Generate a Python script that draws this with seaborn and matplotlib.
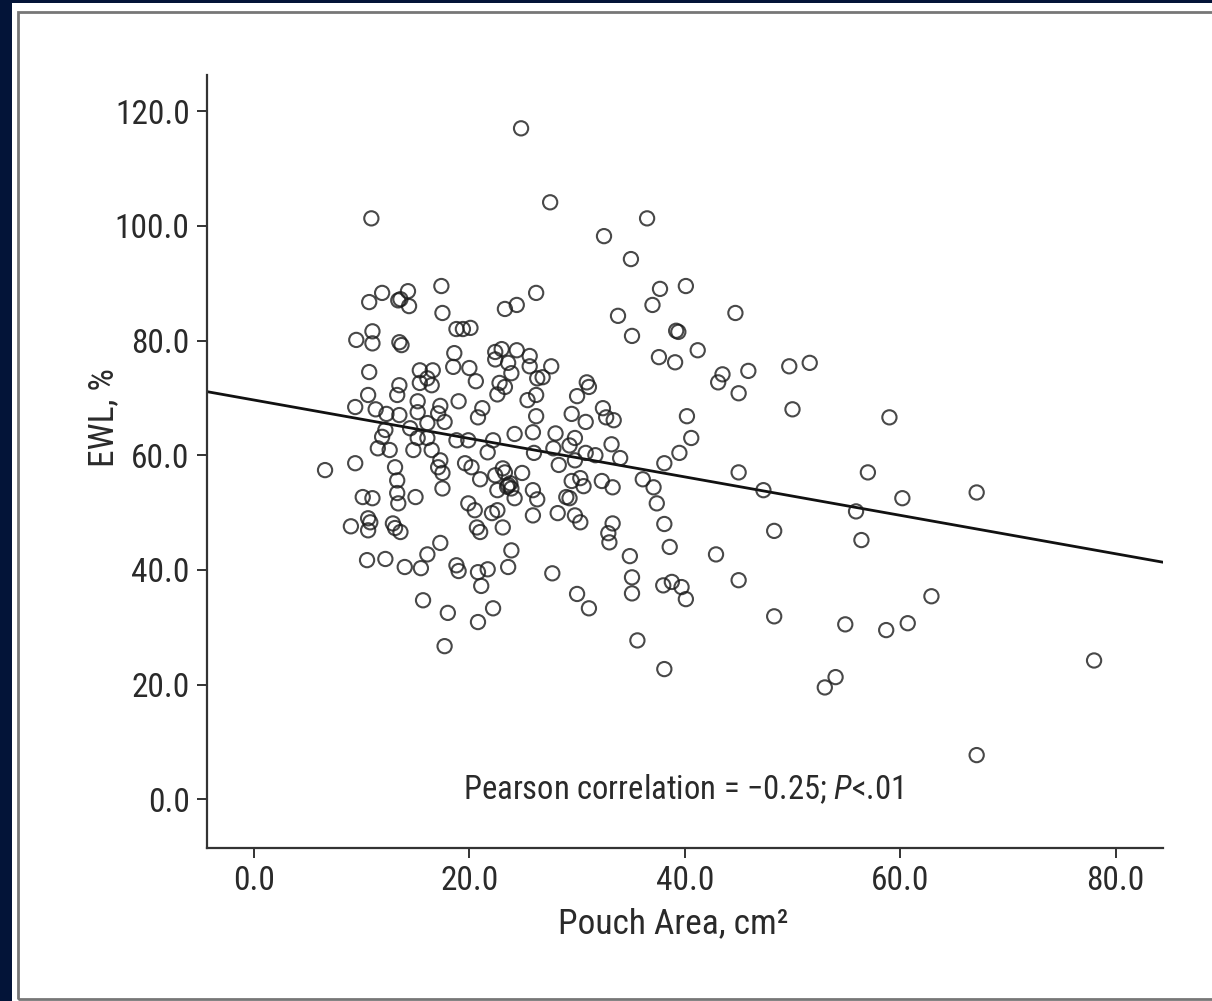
import matplotlib
matplotlib.use("Agg")
import matplotlib.pyplot as plt
from matplotlib import font_manager
from matplotlib.patches import Rectangle
import seaborn as sns
import pandas as pd

# ---------------- data ----------------
pouch_area = [
    24.8, 10.9, 27.5, 32.5, 36.5, 35.0,
    40.1, 44.7, 41.2, 43.5, 43.1, 45.9, 45.0, 49.7, 51.6, 50.0, 59.0, 40.2, 40.6, 45.0, 47.3, 57.0,
    60.2, 67.1, 55.9, 48.3, 56.4, 42.9, 45.0, 40.1, 48.3, 62.9, 54.9, 58.7, 60.7, 78.0, 54.0, 53.0, 67.1,
    23.3, 24.4, 26.2, 33.8, 35.1, 37.0, 37.7, 39.2, 39.4, 37.6, 39.1,
    22.4, 23.0, 24.4, 25.6, 25.6, 22.4, 23.6, 23.9, 27.6, 26.3, 26.8,
    22.8, 23.3, 22.6, 25.4, 26.2, 30.9, 31.1, 30.0, 26.2, 29.5,
    30.8, 32.4, 32.7, 33.4, 25.9, 28.0, 24.2, 22.2, 29.8, 29.3,
    33.2, 39.5, 38.1, 26.0, 27.8, 30.8, 31.7, 34.0, 28.3, 29.8, 23.1,
    22.4, 23.3, 24.9, 22.6, 23.6, 23.9, 23.8, 23.5, 24.2, 25.9, 26.3, 22.6, 25.9, 23.1, 22.1,
    29.5, 30.3, 30.6, 32.3, 33.3, 29.0, 29.3, 28.2, 29.8, 30.3, 33.3, 32.9, 33.0,
    36.1, 37.1, 37.4, 38.1, 38.6, 34.9, 35.1, 35.1, 38.0, 38.8, 39.7, 35.6,
    23.9, 23.6, 27.7, 30.0, 31.1, 22.2, 38.1,
    10.7, 11.9, 13.4, 13.6, 14.3, 14.4, 17.4, 17.5, 9.5, 11.0, 11.0, 13.5, 13.7, 18.8, 19.4, 20.1,
    10.7, 18.6, 18.5, 20.0, 20.6, 15.4, 16.6, 16.1, 15.4, 16.5, 13.5, 13.3, 10.6,
    9.4, 11.3, 12.3, 13.5, 15.2, 17.3, 17.1, 17.7, 19.0, 21.2, 20.8, 15.2, 16.1,
    12.2, 11.9, 14.5, 15.2, 16.1, 18.8, 19.9, 21.7, 11.5, 12.6, 14.8, 16.5, 17.3, 19.6, 9.4, 13.1, 6.6,
    13.3, 10.1, 11.0, 13.3, 13.4, 15.0, 9.0, 10.6, 10.6, 10.8, 12.9, 13.1, 13.6,
    10.5, 12.2, 14.0, 15.5, 16.1, 17.3, 18.8, 19.0, 20.8, 21.7, 21.1, 15.7, 18.0, 20.8, 17.7,
    17.1, 17.5, 17.5, 20.2, 21.0, 19.9, 20.5, 20.7, 21.0,
]
ewl = [
    117.0, 101.3, 104.1, 98.2, 101.3, 94.2,
    89.5, 84.8, 78.3, 74.1, 72.7, 74.7, 70.8, 75.5, 76.1, 68.0, 66.6, 66.8, 63.0, 57.0, 53.9, 57.0,
    52.5, 53.5, 50.2, 46.8, 45.2, 42.7, 38.2, 34.9, 31.9, 35.4, 30.5, 29.5, 30.7, 24.2, 21.3, 19.5, 7.7,
    85.5, 86.2, 88.3, 84.3, 80.8, 86.2, 89.0, 81.7, 81.5, 77.1, 76.2,
    78.0, 78.5, 78.3, 77.3, 75.5, 76.7, 76.1, 74.3, 75.5, 73.4, 73.6,
    72.6, 71.9, 70.6, 69.6, 70.5, 72.7, 71.9, 70.3, 66.8, 67.2,
    65.8, 68.2, 66.6, 66.1, 64.0, 63.8, 63.7, 62.6, 63.0, 61.7,
    61.9, 60.4, 58.6, 60.4, 61.2, 60.4, 60.0, 59.5, 58.3, 59.1, 57.7,
    56.5, 57.0, 56.9, 53.9, 54.8, 54.2, 55.1, 54.5, 52.5, 53.9, 52.3, 50.4, 49.5, 47.4, 49.9,
    55.5, 56.0, 54.6, 55.5, 54.4, 52.7, 52.5, 49.9, 49.5, 48.3, 48.1, 46.4, 44.8,
    55.8, 54.4, 51.6, 48.0, 44.0, 42.4, 38.7, 35.9, 37.3, 37.9, 37.0, 27.7,
    43.4, 40.5, 39.4, 35.8, 33.3, 33.3, 22.7,
    86.7, 88.3, 87.0, 87.2, 88.6, 86.0, 89.5, 84.8, 80.1, 81.6, 79.5, 79.7, 79.2, 82.0, 82.0, 82.2,
    74.5, 77.8, 75.4, 75.2, 72.9, 74.8, 74.8, 73.4, 72.6, 72.2, 72.2, 70.5, 70.5,
    68.4, 68.0, 67.2, 67.0, 69.4, 68.6, 67.3, 65.8, 69.4, 68.2, 66.6, 67.5, 65.6,
    64.4, 63.2, 64.7, 63.0, 63.0, 62.6, 62.6, 60.5, 61.2, 60.9, 60.9, 60.9, 59.1, 58.6, 58.6, 57.9, 57.4,
    55.6, 52.7, 52.5, 53.4, 51.6, 52.7, 47.6, 49.0, 46.9, 48.3, 48.1, 47.3, 46.6,
    41.7, 41.9, 40.5, 40.3, 42.7, 44.7, 40.8, 39.8, 39.6, 40.1, 37.2, 34.7, 32.5, 30.9, 26.7,
    57.9, 56.9, 54.2, 57.9, 55.8, 51.6, 50.4, 47.4, 46.6,
]
x_ticks = [0, 20, 40, 60, 80]
y_ticks = [0, 20, 40, 60, 80, 100, 120]
x_label = "Pouch Area, cm²"
y_label = "EWL, %"
note = "Pearson correlation = \u22120.25; $\\mathit{P}$<.01"

df = pd.DataFrame({"pouch_area": pouch_area, "ewl": ewl})

# ---------------- style ----------------
sns.set_theme(style="ticks")

# look for a condensed sans-serif (the original uses a narrow Helvetica)
entries = font_manager.fontManager.ttflist
names = {f.name for f in entries}
main_font = None
condensed = False
for cand in ["Liberation Sans Narrow", "Arial Narrow", "Nimbus Sans Narrow",
             "Roboto Condensed", "Open Sans Condensed", "Noto Sans Condensed",
             "DejaVu Sans Condensed"]:
    if cand in names:
        main_font = cand
        break
if main_font is None:
    for f in entries:
        if str(f.stretch) in ("condensed", "semi-condensed") and f.name in (
                "DejaVu Sans", "Noto Sans", "Roboto", "Open Sans", "Liberation Sans"):
            main_font = f.name
            condensed = True
            break
if main_font is None:
    main_font = "Liberation Sans"

plt.rcParams["font.family"] = [main_font, "DejaVu Sans"]
if condensed:
    plt.rcParams["font.stretch"] = "condensed"
plt.rcParams["mathtext.fontset"] = "custom"
plt.rcParams["mathtext.rm"] = main_font
plt.rcParams["mathtext.it"] = main_font + ":italic"

narrow = main_font != "Liberation Sans"
tick_fs = 24 if narrow else 22
label_fs = 25.5 if narrow else 22.5
note_fs = 23.5 if narrow else 20.5

W, H = 1212, 1001
fig = plt.figure(figsize=(W / 100, H / 100), dpi=100)
fig.patch.set_facecolor("#031438")
# white panel and its thin grey frame
fig.patches.append(Rectangle((12 / W, 0), 1 - 12 / W, 1 - 3 / H, transform=fig.transFigure,
                             facecolor="white", edgecolor="none", zorder=-3))
fig.patches.append(Rectangle((18 / W, 2 / H), 1.0, 1 - 14 / H, transform=fig.transFigure,
                             facecolor="none", edgecolor="#777777", linewidth=2.0, zorder=-2))

ax = fig.add_axes([207 / W, 1 - 848 / H, (1163 - 207) / W, (848 - 75) / H])
ax.set_zorder(5)
ax.set_facecolor("none")
ax.set_xlim(-4.36, 84.4)
ax.set_ylim(-8.5, 126.3)

sns.regplot(data=df, x="pouch_area", y="ewl", ax=ax, ci=None, truncate=False,
            color="black",
            scatter_kws=dict(facecolors="none", edgecolors="#1a1a1a", s=105, linewidths=1.5, zorder=3),
            line_kws=dict(color="#111111", linewidth=2.0, zorder=2))

ax.set_xlim(-4.36, 84.4)
ax.set_ylim(-8.5, 126.3)
ax.set_xticks(x_ticks)
ax.set_yticks(y_ticks)
ax.set_xticklabels([f"{v:.1f}" for v in x_ticks])
ax.set_yticklabels([f"{v:.1f}" for v in y_ticks])
ax.tick_params(axis="both", direction="out", length=7.5, width=1.4, color="#333333",
               labelsize=tick_fs, labelcolor="#2a2a2a", pad=5)
for side in ["top", "right"]:
    ax.spines[side].set_visible(False)
for side in ["left", "bottom"]:
    ax.spines[side].set_linewidth(1.6)
    ax.spines[side].set_color("#333333")

ax.set_xlabel(x_label, fontsize=label_fs, color="#2a2a2a")
ax.set_ylabel(y_label, fontsize=label_fs, color="#2a2a2a")
ax.xaxis.set_label_coords((673 - 207) / 956, (848 - 907) / 773)
ax.yaxis.set_label_coords((120 - 207) / 956, (848 - 418) / 773)
ax.text(39.8, 1.7, note, ha="center", va="center", fontsize=note_fs, color="#2a2a2a")

fig.savefig("out.png", dpi=100, facecolor=fig.get_facecolor())
